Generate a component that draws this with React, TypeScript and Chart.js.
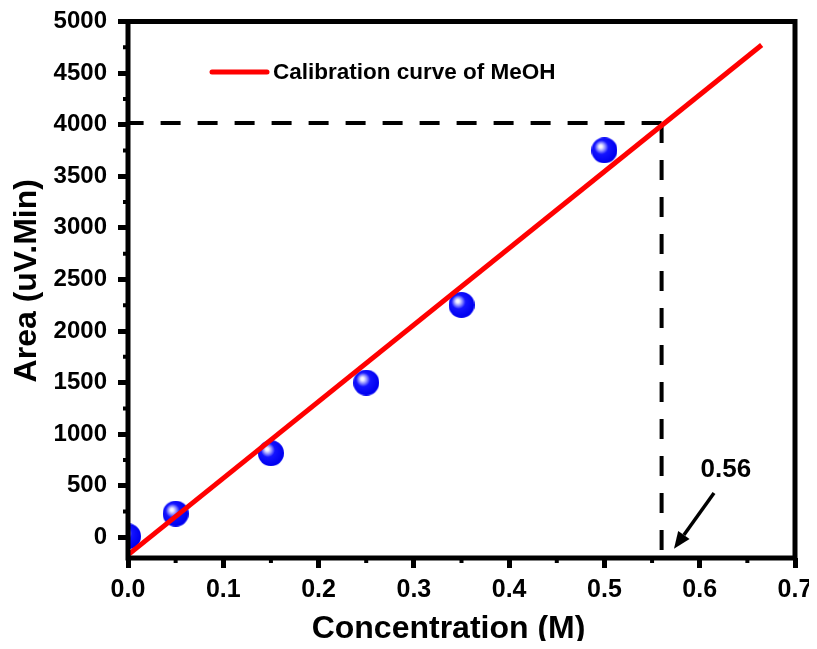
import React, { useEffect, useRef } from 'react';
import { Chart, registerables } from 'chart.js';

Chart.register(...registerables);

// Measured peak areas of the MeOH standards
const concentration = [0, 0.05, 0.15, 0.25, 0.35, 0.5];
const peakArea = [10, 230, 816, 1500, 2253, 3752];

// End points of the fitted calibration line
const fitConcentration = [0, 0.665];
const fitArea = [-170, 4772];

// Unknown sample
const sampleConcentration = 0.56;
const sampleArea = 4016;
const sampleLabel = '0.56';

// Axis ranges and tick values
const xMin = 0;
const xMax = 0.7;
const yMin = -200;
const yMax = 5000;
const xTickValues = [0, 0.1, 0.2, 0.3, 0.4, 0.5, 0.6, 0.7];
const xTickLabels = ['0.0', '0.1', '0.2', '0.3', '0.4', '0.5', '0.6', '0.7'];
const yTickValues = [0, 500, 1000, 1500, 2000, 2500, 3000, 3500, 4000, 4500, 5000];
const yTickLabels = ['0', '500', '1000', '1500', '2000', '2500', '3000', '3500', '4000', '4500', '5000'];

const legendLabel = 'Calibration curve of MeOH';
const xTitle = 'Concentration (M)';
const yTitle = 'Area (uV.Min)';

// Callout arrow (data coordinates)
const arrowTail = { x: 0.615, y: 431 };
const arrowHead = { x: 0.573, y: -111 };
const calloutPos = { x: 0.6275, y: 654 };

const FONT = '"Liberation Sans", Arial, Helvetica, sans-serif';

function makeSphere(r: number): HTMLCanvasElement {
  const c = document.createElement('canvas');
  c.width = r * 2;
  c.height = r * 2;
  const g = c.getContext('2d')!;
  const grad = g.createRadialGradient(r - 4, r - 4, 0, r - 2, r - 2, r + 1);
  grad.addColorStop(0, '#ffffff');
  grad.addColorStop(0.12, '#eeeeff');
  grad.addColorStop(0.3, '#8c8cff');
  grad.addColorStop(0.5, '#1414ff');
  grad.addColorStop(1, '#0000f0');
  g.fillStyle = grad;
  g.beginPath();
  g.arc(r, r, r, 0, Math.PI * 2);
  g.fill();
  return c;
}

// midpoints between consecutive major ticks
function midpoints(values: number[]): number[] {
  const out: number[] = [];
  for (let i = 0; i < values.length - 1; i++) out.push((values[i] + values[i + 1]) / 2);
  return out;
}

const decorPlugin = {
  id: 'decor',
  beforeDatasetsDraw(chart: any) {
    // keep every mark inside the plot frame
    const { ctx, chartArea: a } = chart;
    ctx.save();
    ctx.beginPath();
    ctx.rect(a.left, a.top, a.right - a.left, a.bottom - a.top);
    ctx.clip();
  },
  afterDatasetsDraw(chart: any) {
    const { ctx, chartArea: a, scales } = chart;
    ctx.restore();
    const x = scales.x;
    const y = scales.y;
    ctx.save();

    // minor ticks
    ctx.strokeStyle = '#000';
    ctx.lineWidth = 4;
    ctx.beginPath();
    for (const v of midpoints(yTickValues)) {
      const py = y.getPixelForValue(v);
      ctx.moveTo(a.left, py);
      ctx.lineTo(a.left - 5, py);
    }
    for (const v of midpoints(xTickValues)) {
      const px = x.getPixelForValue(v);
      ctx.moveTo(px, a.bottom);
      ctx.lineTo(px, a.bottom + 5);
    }
    ctx.stroke();

    // plot frame
    ctx.lineWidth = 5;
    ctx.strokeRect(a.left, a.top, a.right - a.left, a.bottom - a.top);

    // legend
    ctx.strokeStyle = '#ff0000';
    ctx.lineCap = 'round';
    ctx.lineWidth = 5;
    ctx.beginPath();
    ctx.moveTo(a.left + 84, a.top + 50.5);
    ctx.lineTo(a.left + 139, a.top + 50.5);
    ctx.stroke();
    ctx.fillStyle = '#000';
    ctx.font = `bold 22.5px ${FONT}`;
    ctx.textAlign = 'left';
    ctx.textBaseline = 'middle';
    ctx.fillText(legendLabel, a.left + 145, a.top + 51);

    // callout arrow and value
    const tx = x.getPixelForValue(arrowTail.x);
    const ty = y.getPixelForValue(arrowTail.y);
    const hx = x.getPixelForValue(arrowHead.x);
    const hy = y.getPixelForValue(arrowHead.y);
    const ang = Math.atan2(hy - ty, hx - tx);
    const headLen = 17;
    const headHalf = 7;
    const bx = hx - headLen * Math.cos(ang);
    const by = hy - headLen * Math.sin(ang);
    ctx.strokeStyle = '#000';
    ctx.lineCap = 'butt';
    ctx.lineWidth = 3.5;
    ctx.beginPath();
    ctx.moveTo(tx, ty);
    ctx.lineTo(bx, by);
    ctx.stroke();
    ctx.beginPath();
    ctx.moveTo(hx, hy);
    ctx.lineTo(bx + headHalf * Math.sin(ang), by - headHalf * Math.cos(ang));
    ctx.lineTo(bx - headHalf * Math.sin(ang), by + headHalf * Math.cos(ang));
    ctx.closePath();
    ctx.fill();

    ctx.font = `bold 26px ${FONT}`;
    ctx.textAlign = 'center';
    ctx.textBaseline = 'middle';
    ctx.fillText(sampleLabel, x.getPixelForValue(calloutPos.x), y.getPixelForValue(calloutPos.y));

    // axis titles
    ctx.font = `bold 32px ${FONT}`;
    ctx.fillText(xTitle, (a.left + a.right) / 2 - 13, a.bottom + 71);
    ctx.save();
    ctx.translate(27, (a.top + a.bottom) / 2 - 9);
    ctx.rotate(-Math.PI / 2);
    ctx.fillText(yTitle, 0, 0);
    ctx.restore();

    ctx.restore();
  },
};

export default function App() {
  const ref = useRef<HTMLCanvasElement | null>(null);

  useEffect(() => {
    if (!ref.current) return;
    const sphere = makeSphere(13);
    const fitData = fitConcentration.map((c, i) => ({ x: c, y: fitArea[i] }));
    const pointData = concentration.map((c, i) => ({ x: c, y: peakArea[i] }));
    const hDash = [
      { x: sampleConcentration, y: sampleArea },
      { x: xMin, y: sampleArea },
    ];
    const vDash = [
      { x: sampleConcentration, y: sampleArea },
      { x: sampleConcentration, y: yMin },
    ];
    const tickFontX = { family: FONT, size: 25, weight: 'bold' as const, lineHeight: 1.2 };
    const tickFontY = { family: FONT, size: 24, weight: 'bold' as const, lineHeight: 1.2 };
    const grid = {
      drawOnChartArea: false,
      drawTicks: true,
      tickLength: 10,
      tickWidth: 5,
      tickColor: '#000',
    };

    const chart = new Chart(ref.current, {
      type: 'scatter',
      data: {
        datasets: [
          {
            label: legendLabel,
            data: fitData,
            showLine: true,
            borderColor: '#ff0000',
            borderWidth: 5,
            pointRadius: 0,
            order: 0,
          },
          {
            label: 'h',
            data: hDash,
            showLine: true,
            borderColor: '#000000',
            borderWidth: 4,
            borderDash: [20, 17],
            pointRadius: 0,
            order: 1,
          },
          {
            label: 'v',
            data: vDash,
            showLine: true,
            borderColor: '#000000',
            borderWidth: 4,
            borderDash: [20, 17],
            pointRadius: 0,
            order: 1,
          },
          {
            label: 'MeOH',
            data: pointData,
            pointStyle: sphere,
            pointRadius: 13,
            clip: 0,
            order: 2,
          } as any,
        ],
      },
      options: {
        animation: false,
        responsive: false,
        events: [],
        layout: { padding: { top: 21.5, right: 22, left: 0, bottom: 0 } },
        plugins: {
          legend: { display: false },
          tooltip: { enabled: false },
        },
        scales: {
          x: {
            type: 'linear',
            min: xMin,
            max: xMax,
            afterFit(scale: any) {
              scale.height = 91;
              scale.paddingLeft = 0;
              scale.paddingRight = 0;
            },
            afterBuildTicks(scale: any) {
              scale.ticks = xTickValues.map((v) => ({ value: v }));
            },
            ticks: {
              color: '#000',
              font: tickFontX,
              padding: 7,
              maxRotation: 0,
              autoSkip: false,
              callback: (v: any) => xTickLabels[xTickValues.indexOf(Number(v))] ?? '',
            },
            grid,
            border: { display: false },
          },
          y: {
            type: 'linear',
            min: yMin,
            max: yMax,
            afterFit(scale: any) {
              scale.width = 128;
              scale.paddingTop = 0;
              scale.paddingBottom = 0;
            },
            afterBuildTicks(scale: any) {
              scale.ticks = yTickValues.map((v) => ({ value: v }));
            },
            ticks: {
              color: '#000',
              font: tickFontY,
              padding: 11,
              autoSkip: false,
              callback: (v: any) => yTickLabels[yTickValues.indexOf(Number(v))] ?? '',
            },
            grid,
            border: { display: false },
          },
        },
      },
      plugins: [decorPlugin],
    });
    return () => chart.destroy();
  }, []);

  return (
    <div style={{ margin: '-8px', width: 817, height: 649, overflow: 'hidden', background: '#fff' }}>
      <canvas ref={ref} width={817} height={649} style={{ display: 'block' }} />
    </div>
  );
}
